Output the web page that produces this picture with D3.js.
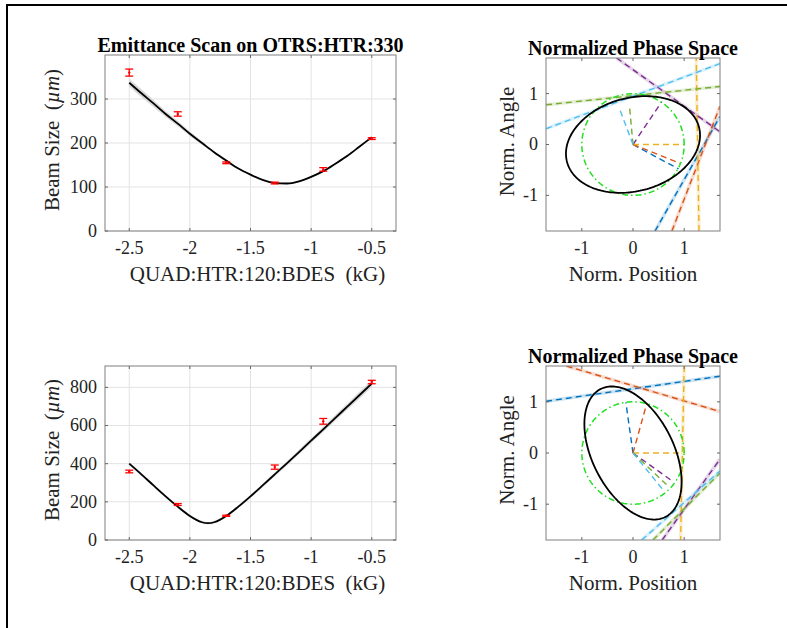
<!DOCTYPE html>
<html><head><meta charset="utf-8">
<script src="https://cdn.jsdelivr.net/npm/d3@7"></script>
<style>
body{margin:0;background:#fff}
svg{display:block}
</style>
</head><body>
<svg id="c" width="787" height="628"></svg>
<script>
// ---------------- data ----------------
const quadK   = [-2.5, -2.1, -1.7, -1.3, -0.9, -0.5];
const sizeX   = [360, 266, 155, 109, 140, 210];
const errX    = [8, 5, 2, 2, 4, 2];
const sizeY   = [359, 186, 127, 382, 622, 828];
const errY    = [7, 5, 3, 11, 15, 9];

const fitKX   = [-2.5,-2.4,-2.3,-2.2,-2.1,-2.0,-1.9,-1.8,-1.7,-1.6,-1.5,-1.4,-1.3,-1.2,-1.1,-1.0,-0.9,-0.8,-0.7,-0.6,-0.5];
const fitX    = [337, 313, 290, 266, 244, 221, 200, 179, 160, 142, 128, 116, 109, 108, 113, 123, 136, 153, 171, 192, 213];
const bandX   = [9, 9, 8, 7, 6, 5, 4, 3, 3, 2, 2, 2, 2, 2, 2, 2, 2, 2, 2, 2, 2];

const fitKY   = [-2.5,-2.4,-2.3,-2.2,-2.1,-2.0,-1.95,-1.9,-1.85,-1.8,-1.75,-1.7,-1.6,-1.5,-1.4,-1.3,-1.2,-1.1,-1.0,-0.9,-0.8,-0.7,-0.6,-0.5];
const fitY    = [400, 344, 286, 229, 175, 126, 107, 93, 88, 93, 107, 126, 175, 229, 286, 344, 402, 461, 521, 580, 640, 700, 760, 820];
const bandY   = [8, 7, 7, 6, 6, 6, 6, 6, 6, 6, 6, 6, 7, 8, 9, 10, 11, 12, 13, 14, 15, 16, 18, 20];

const scanXTicks  = [-2.5, -2, -1.5, -1, -0.5];
const sizeXTicks  = [0, 100, 200, 300];
const sizeYTicks  = [0, 200, 400, 600, 800];
const phaseTicks  = [-1, 0, 1];

const quadColors  = ['#0072BD', '#D95319', '#EDB120', '#7E2F8E', '#77AC30', '#4DBEEE'];

// ellipse: [semi-x, semi-y, phase]
const ellipseTop    = [1.31, 0.95, 1.38];
const ellipseBottom = [0.95, 1.30, 2.02];

// radial segment end points (from origin), one per quad setting
const radialTop    = [[0.89,-0.48],[0.92,-0.37],[1.0,0.0],[0.56,0.84],[-0.07,0.77],[-0.27,0.72]];
const radialBottom = [[-0.14,0.99],[0.27,0.97],[0.99,0.0],[0.77,-0.55],[0.66,-0.62],[0.57,-0.70]];

// long (tangent) lines, two end points each
const tangentTop = [
  [[0.43,-1.7],[1.7,0.55]],
  [[0.76,-1.7],[1.7,0.75]],
  [[1.29,-1.7],[1.235,1.7]],
  [[-0.32,1.7],[1.7,0.25]],
  [[-1.7,0.78],[1.7,1.14]],
  [[-1.7,0.31],[1.7,1.59]]
];
const tangentBottom = [
  [[-1.7,1.01],[1.7,1.50]],
  [[-1.30,1.7],[1.7,0.81]],
  [[1.0,1.7],[0.93,-1.7]],
  [[0.57,-1.7],[1.7,-0.12]],
  [[0.39,-1.7],[1.7,-0.39]],
  [[0.17,-1.7],[1.7,-0.35]]
];

// ---------------- drawing ----------------
const FONT = '"Liberation Serif", "Times New Roman", serif';
const svg = d3.select('#c');
svg.append('rect').attr('width',787).attr('height',628).attr('fill','#fff');
svg.append('path').attr('d','M7,628V5H787').attr('fill','none').attr('stroke','#000').attr('stroke-width',2);

function txt(sel){ return sel.append('text').style('font-family', FONT).style('white-space','pre'); }

const fmt = d => String(d);
let clipN = 0;

function panel(o){
  const x = d3.scaleLinear().domain(o.xd).range([o.l, o.r]);
  const y = d3.scaleLinear().domain(o.yd).range([o.b, o.t]);
  const g = svg.append('g');
  const id = 'clip' + (clipN++);
  svg.append('clipPath').attr('id', id).append('rect')
    .attr('x', o.l).attr('y', o.t).attr('width', o.r - o.l).attr('height', o.b - o.t);
  if (o.grid){
    g.selectAll('.gx').data(o.xt).enter().append('line')
      .attr('x1', d=>x(d)).attr('x2', d=>x(d)).attr('y1', o.t).attr('y2', o.b)
      .attr('stroke','#e3e3e3').attr('stroke-width',1);
    g.selectAll('.gy').data(o.yt).enter().append('line')
      .attr('y1', d=>y(d)).attr('y2', d=>y(d)).attr('x1', o.l).attr('x2', o.r)
      .attr('stroke','#e3e3e3').attr('stroke-width',1);
  }
  const plot = svg.append('g').attr('clip-path', `url(#${id})`);
  const axes = svg.append('g');
  axes.append('rect').attr('x', o.l).attr('y', o.t).attr('width', o.r-o.l).attr('height', o.b-o.t)
    .attr('fill','none').attr('stroke','#8a8a8a').attr('stroke-width',1.1);
  const tl = 3;
  o.xt.forEach(v=>{
    axes.append('line').attr('x1',x(v)).attr('x2',x(v)).attr('y1',o.b).attr('y2',o.b-tl).attr('stroke','#666');
    axes.append('line').attr('x1',x(v)).attr('x2',x(v)).attr('y1',o.t).attr('y2',o.t+tl).attr('stroke','#666');
    txt(axes).attr('x',x(v)).attr('y',o.b+23).attr('text-anchor','middle')
      .attr('font-size',18).attr('fill','#222').text(fmt(v));
  });
  o.yt.forEach(v=>{
    axes.append('line').attr('y1',y(v)).attr('y2',y(v)).attr('x1',o.l).attr('x2',o.l+tl).attr('stroke','#666');
    axes.append('line').attr('y1',y(v)).attr('y2',y(v)).attr('x1',o.r).attr('x2',o.r-tl).attr('stroke','#666');
    txt(axes).attr('x',o.l-8).attr('y',y(v)).attr('dy','0.33em').attr('text-anchor','end')
      .attr('font-size',18).attr('fill','#222').text(fmt(v));
  });
  if (o.title){
    txt(svg).attr('x',(o.l+o.r)/2).attr('y',o.t-3).attr('text-anchor','middle')
      .attr('font-size',20).attr('font-weight','bold').attr('fill','#000').text(o.title);
  }
  return {x, y, plot, o};
}

function scanPanel(p, fk, fv, band, yv, ye){
  const {x, y, plot} = p;
  const rows = fk.map((k,i)=>({k, v:fv[i], e:band[i]}));
  plot.append('path').datum(rows)
    .attr('d', d3.area().x(d=>x(d.k)).y0(d=>y(d.v-d.e)).y1(d=>y(d.v+d.e)).curve(d3.curveMonotoneX))
    .attr('fill','#d4d4d4').attr('opacity',0.85);
  plot.append('path').datum(rows)
    .attr('d', d3.line().x(d=>x(d.k)).y(d=>y(d.v)).curve(d3.curveMonotoneX))
    .attr('fill','none').attr('stroke','#000').attr('stroke-width',1.8);
  const eb = plot.append('g').attr('stroke','#f00').attr('stroke-width',1.3);
  quadK.forEach((k,i)=>{
    const cx = x(k), lo = y(yv[i]-ye[i]), hi = y(yv[i]+ye[i]);
    eb.append('line').attr('x1',cx).attr('x2',cx).attr('y1',lo).attr('y2',hi);
    eb.append('line').attr('x1',cx-4).attr('x2',cx+4).attr('y1',lo).attr('y2',lo);
    eb.append('line').attr('x1',cx-4).attr('x2',cx+4).attr('y1',hi).attr('y2',hi);
    eb.append('circle').attr('cx',cx).attr('cy',y(yv[i])).attr('r',1.2).attr('fill','#f00').attr('stroke','none');
  });
}

function phasePanel(p, ell, radial, tangent){
  const {x, y, plot} = p;
  const line = d3.line().x(d=>x(d[0])).y(d=>y(d[1]));
  tangent.forEach((seg,i)=>{
    plot.append('path').attr('d', line(seg)).attr('stroke', quadColors[i]).attr('stroke-width',3.5)
      .attr('opacity',0.2).attr('fill','none');
    plot.append('path').attr('d', line(seg)).attr('stroke', quadColors[i]).attr('stroke-width',1.4)
      .attr('stroke-dasharray','6,4').attr('fill','none');
  });
  radial.forEach((pt,i)=>{
    plot.append('path').attr('d', line([[0,0], pt])).attr('stroke', quadColors[i]).attr('stroke-width',1.4)
      .attr('stroke-dasharray','6,4').attr('fill','none');
  });
  const circ = d3.range(0, 2*Math.PI + 0.01, Math.PI/90).map(t=>[Math.cos(t), Math.sin(t)]);
  plot.append('path').attr('d', line(circ)).attr('fill','none').attr('stroke','#1fe01f')
    .attr('stroke-width',1.5).attr('stroke-dasharray','6,3,1.5,3');
  const [ax, ay, ph] = ell;
  const pts = d3.range(0, 2*Math.PI + 0.01, Math.PI/90).map(t=>[ax*Math.cos(t), ay*Math.cos(t-ph)]);
  plot.append('path').attr('d', line(pts)).attr('fill','none').attr('stroke','#000').attr('stroke-width',1.8);
}

function labels(p, xl, yl, ylx, xShift){
  const o = p.o;
  txt(svg).attr('x',(o.l+o.r)/2 + xShift).attr('y',o.b+50).attr('text-anchor','middle')
    .attr('font-size',21).attr('fill','#222').text(xl);
  const yt = txt(svg).attr('transform',`translate(${ylx},${(o.t+o.b)/2 - 3}) rotate(-90)`)
    .attr('text-anchor','middle').attr('font-size',21).attr('fill','#222');
  if (Array.isArray(yl)){
    yt.append('tspan').text(yl[0]);
    yt.append('tspan').attr('font-style','italic').text(yl[1]);
    yt.append('tspan').text(yl[2]);
  } else yt.text(yl);
}

// top-left
const pTL = panel({l:105, r:396, t:55, b:231, xd:[-2.7,-0.3], yd:[0,400], xt:scanXTicks, yt:sizeXTicks, grid:true,
  title:'Emittance Scan on OTRS:HTR:330'});
scanPanel(pTL, fitKX, fitX, bandX, sizeX, errX);
labels(pTL, 'QUAD:HTR:120:BDES  (kG)', ['Beam Size  (', 'µm', ')'], 59, 7);

// bottom-left
const pBL = panel({l:105, r:396, t:366, b:540, xd:[-2.7,-0.3], yd:[0,912], xt:scanXTicks, yt:sizeYTicks, grid:true});
scanPanel(pBL, fitKY, fitY, bandY, sizeY, errY);
labels(pBL, 'QUAD:HTR:120:BDES  (kG)', ['Beam Size  (', 'µm', ')'], 59, 7);

// top-right
const pTR = panel({l:546, r:720, t:58, b:231, xd:[-1.7,1.7], yd:[-1.7,1.7], xt:phaseTicks, yt:phaseTicks, grid:false,
  title:'Normalized Phase Space'});
phasePanel(pTR, ellipseTop, radialTop, tangentTop);
labels(pTR, 'Norm. Position', 'Norm. Angle', 514, 0);

// bottom-right
const pBR = panel({l:546, r:720, t:366, b:540, xd:[-1.7,1.7], yd:[-1.7,1.7], xt:phaseTicks, yt:phaseTicks, grid:false,
  title:'Normalized Phase Space'});
phasePanel(pBR, ellipseBottom, radialBottom, tangentBottom);
labels(pBR, 'Norm. Position', 'Norm. Angle', 514, 0);
</script>
</body></html>
